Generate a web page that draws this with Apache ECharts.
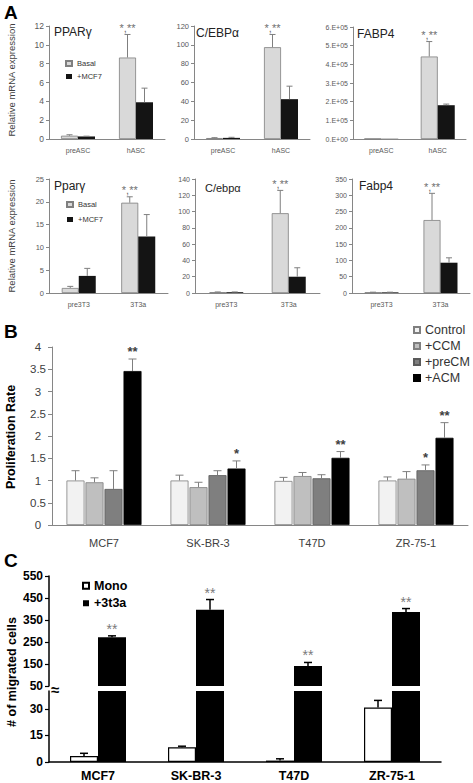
<!DOCTYPE html>
<html><head><meta charset="utf-8">
<script src="https://cdn.jsdelivr.net/npm/echarts@6/dist/echarts.min.js"></script>
<style>html,body{margin:0;padding:0;background:#fff}#c{width:473px;height:783px}</style>
</head><body><div id="c"></div><script>
// ---------- Panel A data ----------
const humanCats = ['preASC', 'hASC'];
const mouseCats = ['pre3T3', '3T3a'];
const sigA = ['', '*,**'];
const pparH_basal = [0.35, 8.65], pparH_basalErr = [0.1, 2.45];
const pparH_mcf = [0.27, 3.9], pparH_mcfErr = [0.03, 1.5];
const cebpH_basal = [1.0, 97.5], cebpH_basalErr = [0.4, 13.5];
const cebpH_mcf = [1.2, 42.3], cebpH_mcfErr = [0.6, 13.8];
const fabpH_basal = [1500, 442000], fabpH_basalErr = [0, 80000];
const fabpH_mcf = [1200, 181000], fabpH_mcfErr = [0, 6000];
const pparM_basal = [1.1, 19.8], pparM_basalErr = [0.35, 1.3];
const pparM_mcf = [3.75, 12.4], pparM_mcfErr = [1.65, 4.8];
const cebpM_basal = [1.0, 98], cebpM_basalErr = [0.3, 28];
const cebpM_mcf = [1.0, 20], cebpM_mcfErr = [0.3, 11];
const fabpM_basal = [2, 224], fabpM_basalErr = [0.5, 82];
const fabpM_mcf = [2, 93], fabpM_mcfErr = [0.5, 15];
const fabpTicks = ['0.E+00', '1.E+05', '2.E+05', '3.E+05', '4.E+05', '5.E+05', '6.E+05'];
// ---------- Panel B data ----------
const cellLines = ['MCF7', 'SK-BR-3', 'T47D', 'ZR-75-1'];
const control = [1.0, 1.0, 0.99, 1.0], controlErr = [0.22, 0.12, 0.08, 0.08];
const ccm = [0.96, 0.85, 1.10, 1.04], ccmErr = [0.10, 0.11, 0.08, 0.16];
const precm = [0.81, 1.12, 1.05, 1.23], precmErr = [0.41, 0.10, 0.08, 0.12];
const acm = [3.46, 1.27, 1.51, 1.96], acmErr = [0.27, 0.17, 0.14, 0.34];
const sigControl = ['', '', '', ''], sigCcm = ['', '', '', ''];
const sigPrecm = ['', '', '', '*'], sigAcm = ['**', '*', '**', '**'];
// ---------- Panel C data ----------
const mono = [3.4, 8.3, 0.8, 30.7], monoErr = [1.5, 0.6, 1.0, 4.0];
const t3a = [272, 397, 141, 386], t3aErr = [6, 46, 16, 16];
const sigT3a = ['**', '**', '**', '**'];

const FF = 'Liberation Sans';
const GRAY = '#868686', TXT = '#595959';

function errSeries(xi, vals, errs, offset, color, capW, lw, sig, sigFont, sigColor, sigGap) {
  return {
    type: 'custom', xAxisIndex: xi, yAxisIndex: xi, z: 5, silent: true,
    data: vals.map((v, i) => [i, v, errs[i]]),
    renderItem: function (params, api) {
      const i = api.value(0), v = api.value(1), e = api.value(2);
      const base = api.coord([i, v]);
      const top = api.coord([i, v + e]);
      const x = base[0] + offset;
      const ch = [];
      if (e > 0) {
        ch.push({ type: 'line', shape: { x1: x, y1: base[1], x2: x, y2: top[1] }, style: { stroke: color, lineWidth: lw } });
        ch.push({ type: 'line', shape: { x1: x - capW, y1: top[1], x2: x + capW, y2: top[1] }, style: { stroke: color, lineWidth: lw } });
      }
      const s = sig ? sig[params.dataIndex] : '';
      if (s) ch.push({ type: 'text', style: { text: s, x: x, y: top[1] - sigGap, align: 'center', verticalAlign: 'bottom', font: sigFont, fill: sigColor } });
      return { type: 'group', children: ch };
    }
  };
}

const grids = [], xAxes = [], yAxes = [], series = [];
const basalStyle = { color: '#d9d9d9', borderColor: '#7f7f7f', borderWidth: 0.8 };
const mcfStyle = { color: '#141414' };

function addA(g, cats, max, interval, fs, fmt, basal, basalErr, mcf, mcfErr) {
  const idx = grids.length;
  grids.push(g);
  xAxes.push({ type: 'category', gridIndex: idx, data: cats, axisLine: { lineStyle: { color: GRAY } }, axisTick: { show: false },
    axisLabel: { fontSize: 7, color: TXT, margin: 8, fontFamily: FF } });
  yAxes.push({ type: 'value', gridIndex: idx, min: 0, max: max, interval: interval, splitLine: { show: false },
    axisLine: { show: true, lineStyle: { color: GRAY } }, axisTick: { show: true, length: 3, lineStyle: { color: GRAY } },
    axisLabel: { fontSize: fs, color: TXT, margin: 5, fontFamily: FF, formatter: fmt } });
  series.push({ type: 'bar', name: 'Basal', xAxisIndex: idx, yAxisIndex: idx, data: basal, barWidth: 17, barGap: '0%', itemStyle: basalStyle, silent: true });
  series.push({ type: 'bar', name: '+MCF7', xAxisIndex: idx, yAxisIndex: idx, data: mcf, barWidth: 17, barGap: '0%', itemStyle: mcfStyle, silent: true });
  series.push(errSeries(idx, basal, basalErr, -8.5, '#7f7f7f', 3, 1, sigA, '11px ' + FF, '#6f6f6f', 1));
  series.push(errSeries(idx, mcf, mcfErr, 8.5, '#7f7f7f', 3, 1, null));
}

addA({ left: 49, top: 26, width: 116, height: 113 }, humanCats, 12, 2, 8.5, null, pparH_basal, pparH_basalErr, pparH_mcf, pparH_mcfErr);
addA({ left: 194, top: 26, width: 116, height: 113 }, humanCats, 120, 20, 7.5, null, cebpH_basal, cebpH_basalErr, cebpH_mcf, cebpH_mcfErr);
addA({ left: 353, top: 27, width: 113, height: 112 }, humanCats, 600000, 100000, 7, v => fabpTicks[Math.round(v / 100000)], fabpH_basal, fabpH_basalErr, fabpH_mcf, fabpH_mcfErr);
addA({ left: 49, top: 179, width: 119, height: 114 }, mouseCats, 25, 5, 7.5, null, pparM_basal, pparM_basalErr, pparM_mcf, pparM_mcfErr);
addA({ left: 195, top: 179, width: 125, height: 114 }, mouseCats, 140, 20, 7, null, cebpM_basal, cebpM_basalErr, cebpM_mcf, cebpM_mcfErr);
addA({ left: 352, top: 179, width: 118, height: 114 }, mouseCats, 350, 50, 7, null, fabpM_basal, fabpM_basalErr, fabpM_mcf, fabpM_mcfErr);

// ---------- Panel B ----------
const bIdx = grids.length;
grids.push({ left: 52, top: 347, width: 416, height: 178 });
xAxes.push({ type: 'category', gridIndex: bIdx, data: cellLines, axisLine: { lineStyle: { color: GRAY } }, axisTick: { show: false },
  axisLabel: { fontSize: 11, color: '#404040', margin: 12, fontFamily: FF } });
yAxes.push({ type: 'value', gridIndex: bIdx, min: 0, max: 4, interval: 0.5, splitLine: { show: false },
  axisLine: { show: true, lineStyle: { color: GRAY } }, axisTick: { show: true, length: 4, lineStyle: { color: GRAY } },
  axisLabel: { fontSize: 11.5, color: '#404040', margin: 14, align: 'center', fontFamily: FF } });
const bSets = [
  ['Control', control, controlErr, sigControl, { color: '#f2f2f2', borderColor: '#7f7f7f', borderWidth: 0.8 }],
  ['+CCM', ccm, ccmErr, sigCcm, { color: '#bfbfbf', borderColor: '#7f7f7f', borderWidth: 0.8 }],
  ['+preCM', precm, precmErr, sigPrecm, { color: '#7f7f7f', borderColor: '#5a5a5a', borderWidth: 0.8 }],
  ['+ACM', acm, acmErr, sigAcm, { color: '#000000', borderColor: '#000', borderWidth: 0.8 }]
];
bSets.forEach((s, i) => {
  series.push({ type: 'bar', name: s[0], xAxisIndex: bIdx, yAxisIndex: bIdx, data: s[1], barWidth: 18, barGap: '5.6%', itemStyle: s[4], silent: true });
});
bSets.forEach((s, i) => {
  series.push(errSeries(bIdx, s[1], s[2], (i - 1.5) * 19, '#7f7f7f', 4, 1, s[3], 'bold 13px ' + FF, '#404040', 1));
});

// ---------- Panel C (broken axis) ----------
const cUp = grids.length;
grids.push({ left: 49, top: 576, width: 392, height: 110 });
xAxes.push({ type: 'category', gridIndex: cUp, data: cellLines, show: false });
yAxes.push({ type: 'value', gridIndex: cUp, min: 50, max: 550, interval: 100, splitLine: { show: false },
  axisLine: { show: true, lineStyle: { color: '#000', width: 1.5 } }, axisTick: { show: true, length: 4, lineStyle: { color: '#000', width: 1.2 } },
  axisLabel: { fontSize: 12, fontWeight: 'bold', color: '#000', margin: 6, fontFamily: FF } });
const cLo = grids.length;
grids.push({ left: 49, top: 691, width: 392, height: 71 });
xAxes.push({ type: 'category', gridIndex: cLo, data: cellLines, axisLine: { lineStyle: { color: '#000', width: 1.5 } }, axisTick: { show: false },
  axisLabel: { fontSize: 12.5, fontWeight: 'bold', color: '#000', margin: 7, fontFamily: FF } });
yAxes.push({ type: 'value', gridIndex: cLo, min: 0, max: 40, interval: 15, splitLine: { show: false },
  axisLine: { show: true, lineStyle: { color: '#000', width: 1.5 } }, axisTick: { show: true, length: 4, lineStyle: { color: '#000', width: 1.2 } },
  axisLabel: { fontSize: 12, fontWeight: 'bold', color: '#000', margin: 6, fontFamily: FF, showMaxLabel: false } });
const monoStyle = { color: '#ffffff', borderColor: '#000', borderWidth: 1.2 };
const t3aStyle = { color: '#000000' };
[cUp, cLo].forEach(gi => {
  series.push({ type: 'bar', name: 'Mono', xAxisIndex: gi, yAxisIndex: gi, data: mono, barWidth: 28, barGap: '0%', itemStyle: monoStyle, silent: true });
  series.push({ type: 'bar', name: '+3t3a', xAxisIndex: gi, yAxisIndex: gi, data: t3a, barWidth: 28, barGap: '0%', itemStyle: t3aStyle, silent: true });
});
series.push(errSeries(cLo, mono, monoErr, -14, '#000', 4, 1.5, null));
series.push(errSeries(cUp, t3a, t3aErr, 14, '#000', 4, 1.5, sigT3a, '14px ' + FF, '#7a7a7a', 0));

function vText(text, x, y, font, fill) {
  return { type: 'text', x: x, y: y, rotation: Math.PI / 2, silent: true,
    style: { text: text, font: font, fill: fill, align: 'center', verticalAlign: 'middle' } };
}

const option = {
  animation: false,
  backgroundColor: '#fff',
  title: [
    { text: 'A', left: 4, top: 3, padding: 0, textStyle: { fontSize: 19, fontWeight: 'bold', color: '#000', fontFamily: FF } },
    { text: 'B', left: 4, top: 322, padding: 0, textStyle: { fontSize: 19, fontWeight: 'bold', color: '#000', fontFamily: FF } },
    { text: 'C', left: 4, top: 551, padding: 0, textStyle: { fontSize: 19, fontWeight: 'bold', color: '#000', fontFamily: FF } },
    { text: 'PPARγ', left: 54, top: 26, padding: 0, textStyle: { fontSize: 12, fontWeight: 'normal', color: '#222', fontFamily: FF } },
    { text: 'C/EBPα', left: 196, top: 27, padding: 0, textStyle: { fontSize: 12, fontWeight: 'normal', color: '#222', fontFamily: FF } },
    { text: 'FABP4', left: 357, top: 28, padding: 0, textStyle: { fontSize: 12, fontWeight: 'normal', color: '#222', fontFamily: FF } },
    { text: 'Pparγ', left: 54, top: 180, padding: 0, textStyle: { fontSize: 12, fontWeight: 'normal', color: '#222', fontFamily: FF } },
    { text: 'C/ebpα', left: 205, top: 182, padding: 0, textStyle: { fontSize: 11, fontWeight: 'normal', color: '#222', fontFamily: FF } },
    { text: 'Fabp4', left: 359, top: 180, padding: 0, textStyle: { fontSize: 12, fontWeight: 'normal', color: '#222', fontFamily: FF } }
  ],
  legend: [
    { data: ['Basal', '+MCF7'], left: 65, top: 57, orient: 'vertical', icon: 'rect', itemWidth: 6, itemHeight: 5, itemGap: 0, padding: 0, selectedMode: false,
      textStyle: { fontSize: 7.5, color: '#333', lineHeight: 13, fontFamily: FF } },
    { data: ['Basal', '+MCF7'], left: 66, top: 197, orient: 'vertical', icon: 'rect', itemWidth: 6, itemHeight: 5, itemGap: 0, padding: 0, selectedMode: false,
      textStyle: { fontSize: 7.5, color: '#333', lineHeight: 15, fontFamily: FF } },
    { data: ['Control', '+CCM', '+preCM', '+ACM'], left: 413, top: 322, orient: 'vertical', icon: 'rect', itemWidth: 6, itemHeight: 6, itemGap: 0, padding: 0, selectedMode: false,
      textStyle: { fontSize: 12.5, color: '#333', lineHeight: 16, fontFamily: FF } },
    { data: ['Mono', '+3t3a'], left: 82, top: 577, orient: 'vertical', icon: 'rect', itemWidth: 6, itemHeight: 6, itemGap: 0, padding: 0, selectedMode: false,
      textStyle: { fontSize: 12.5, fontWeight: 'bold', color: '#000', lineHeight: 17.5, fontFamily: FF } }
  ],
  graphic: [
    vText('Relative mRNA expression', 11, 80, '9.5px ' + FF, '#404040'),
    vText('Relative mRNA expression', 11, 236, '9.5px ' + FF, '#404040'),
    vText('Proliferation Rate', 11, 437, 'bold 12.5px ' + FF, '#000'),
    vText('# of migrated cells', 12, 672, 'bold 12.5px ' + FF, '#000'),
    { type: 'text', x: 55, y: 689, silent: true, style: { text: '≈', font: 'bold 15px ' + FF, fill: '#000', align: 'center', verticalAlign: 'middle' } }
  ],
  grid: grids,
  xAxis: xAxes,
  yAxis: yAxes,
  series: series
};
const chart = echarts.init(document.getElementById('c'), null, { renderer: 'svg', width: 473, height: 783 });
chart.setOption(option);
</script></body></html>
